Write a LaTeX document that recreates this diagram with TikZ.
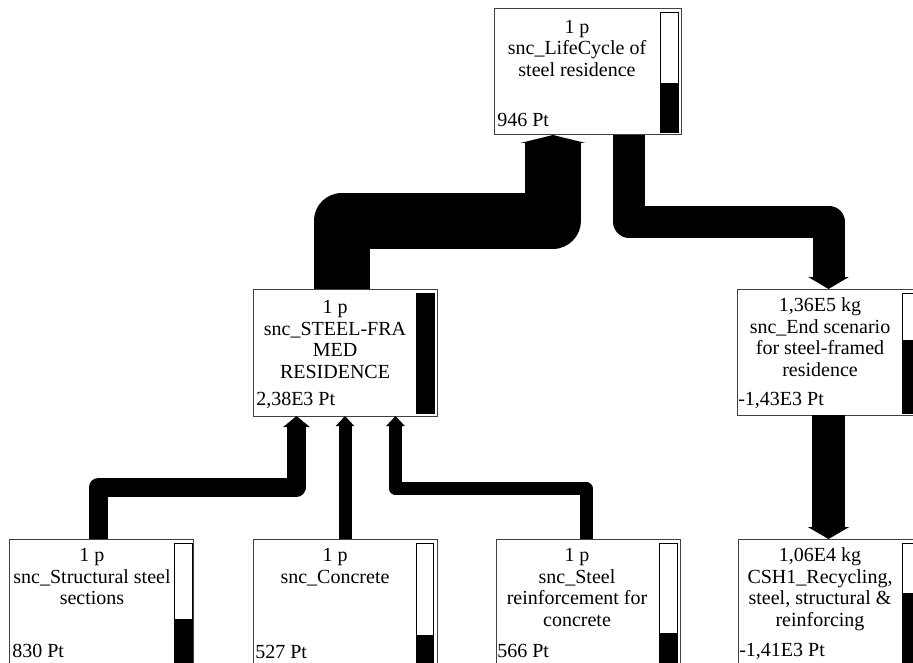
\documentclass[tikz,border=0pt]{standalone}
\usepackage{fontspec}
\setmainfont{Liberation Serif}
\usetikzlibrary{arrows.meta}
\begin{document}
\begin{tikzpicture}[x=0.75pt,y=-0.75pt,
  box/.style={draw=black!75, line width=0.75pt, fill=white, inner sep=0pt, outer sep=0pt, rectangle, anchor=north west},
  txt/.style={align=center, inner sep=0pt, anchor=north, font=\fontsize{15}{16.3}\selectfont},
  lbl/.style={anchor=base west, inner sep=0pt, font=\fontsize{15}{16.3}\selectfont},
  barline/.style={draw=black, line width=0.75pt, fill=white},
  flow/.style={draw=black, line join=round, line cap=butt},
]
\useasboundingbox (0,0) rectangle (913,663);
\clip (0,0) rectangle (913,663);
\fill[white] (0,0) rectangle (913,663);

% boxes
\node[box, minimum width={(681-494)*0.75pt}, minimum height={(135-9)*0.75pt}] (top) at (494,9) {};
\node[box, minimum width={(437-253)*0.75pt}, minimum height={(416-289)*0.75pt}] (mid) at (253,289) {};
\node[box, minimum width={(920-737)*0.75pt}, minimum height={(415-289)*0.75pt}] (right) at (737,289) {};
\node[box, minimum width={(193-9)*0.75pt}, minimum height={(672-539)*0.75pt}] (bl) at (9,539) {};
\node[box, minimum width={(437-253)*0.75pt}, minimum height={(672-539)*0.75pt}] (b2) at (253,539) {};
\node[box, minimum width={(680-496)*0.75pt}, minimum height={(672-539)*0.75pt}] (b3) at (496,539) {};
\node[box, minimum width={(920-738)*0.75pt}, minimum height={(672-539)*0.75pt}] (b4) at (738,539) {};

% bars
\draw[barline] (660,13) rectangle (678,133); \fill (660,83) rectangle (678,133);
\draw[barline] (416,293) rectangle (434,413); \fill (416,293) rectangle (434,413);
\draw[barline] (902,293) rectangle (920,413); \fill (902,340) rectangle (920,413);
\draw[barline] (174,543) rectangle (192,672); \fill (174,619) rectangle (192,672);
\draw[barline] (416,543) rectangle (433,672); \fill (416,635) rectangle (433,672);
\draw[barline] (659,543) rectangle (677,672); \fill (659,633) rectangle (677,672);
\draw[barline] (902,543) rectangle (920,672); \fill (902,593) rectangle (920,672);

% texts
\node[txt] (toptxt) at (577,17) {\rule{0pt}{12pt}1 p\\snc\_LifeCycle of\\steel residence};
\node[lbl] (topval) at (497,127) {946 Pt};
\node[txt] (midtxt) at (335,297) {\rule{0pt}{12pt}1 p\\snc\_STEEL-FRA\\MED\\RESIDENCE};
\node[lbl] (midval) at (256,405) {2,38E3 Pt};
\node[txt] (righttxt) at (820,295) {\rule{0pt}{12pt}1,36E5 kg\\snc\_End scenario\\for steel-framed\\residence};
\node[lbl] (rightval) at (738,405) {-1,43E3 Pt};
\node[txt] (bltxt) at (92,545) {\rule{0pt}{12pt}1 p\\snc\_Structural steel\\sections};
\node[lbl] (blval) at (12,657) {830 Pt};
\node[txt] (b2txt) at (335,545) {\rule{0pt}{12pt}1 p\\snc\_Concrete};
\node[lbl] (b2val) at (255,658) {527 Pt};
\node[txt] (b3txt) at (577,545) {\rule{0pt}{12pt}1 p\\snc\_Steel\\reinforcement for\\concrete};
\node[lbl] (b3val) at (497,657) {566 Pt};
\node[txt] (b4txt) at (820,545) {\rule{0pt}{12pt}1,06E4 kg\\CSH1\_Recycling,\\steel, structural \&\\reinforcing};
\node[lbl] (b4val) at (739,656) {-1,41E3 Pt};

% connectors
\draw[flow, line width=42pt, -{Triangle[width=48.75pt,length=6pt]}]
  ([shift={(-3,0)}]mid.north) -- ++(0,-68.5) -| ([shift={(-34.5,0)}]top.south);
\draw[flow, line width=24pt, -{Triangle[width=30pt,length=9pt]}]
  ([shift={(41.5,0)}]top.south) -- ++(0,86.5) -| (right.north);
\draw[flow, line width=24.75pt, -{Triangle[width=30.75pt,length=9pt]}]
  (right.south) -- (right.south |- b4.north);
\draw[flow, line width=14.25pt, -{Triangle[width=19.5pt,length=8.25pt]}]
  ([shift={(-2.5,0)}]bl.north) -- ++(0,-52) -| ([shift={(-48.5,0)}]mid.south);
\draw[flow, line width=9.75pt, -{Triangle[width=13.5pt,length=7.5pt]}]
  (b2.north) -- (mid.south);
\draw[flow, line width=9.75pt, -{Triangle[width=13.5pt,length=7.5pt]}]
  ([shift={(-2,0)}]b3.north) -- ++(0,-50.5) -| ([shift={(50.5,0)}]mid.south);
\end{tikzpicture}
\end{document}
